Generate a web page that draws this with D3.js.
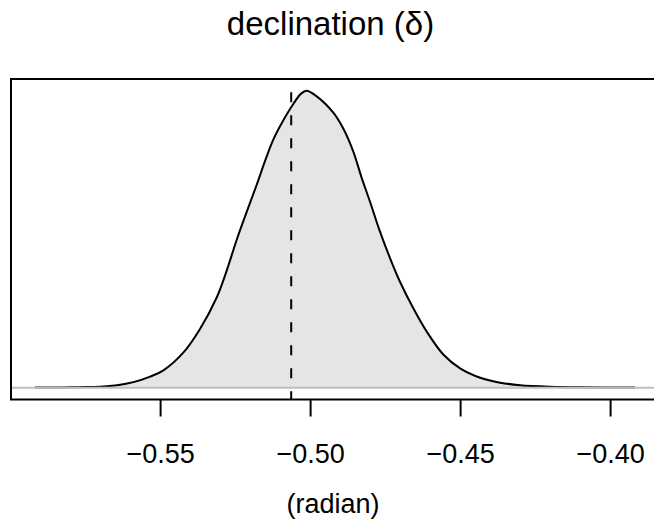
<!DOCTYPE html>
<html>
<head>
<meta charset="utf-8">
<script src="https://cdn.jsdelivr.net/npm/d3@7"></script>
<style>
  html, body { margin: 0; padding: 0; background: #fff; }
  svg { display: block; font-family: "Liberation Sans", Arial, Helvetica, sans-serif; }
</style>
</head>
<body>
<svg id="chart" width="654" height="524"></svg>
<script>
// ---- data ----
const densX = [-0.5917, -0.5833, -0.5767, -0.5700, -0.5643, -0.5589, -0.5533, -0.5489, -0.5422, -0.5367,
               -0.5311, -0.5280, -0.5244, -0.5211, -0.5178, -0.5148, -0.5122, -0.5091, -0.5056, -0.5030,
               -0.5012, -0.4978, -0.4922, -0.4889, -0.4856, -0.4828, -0.4800, -0.4767, -0.4733, -0.4700,
               -0.4656, -0.4611, -0.4556, -0.4500, -0.4433, -0.4367, -0.4300, -0.4200, -0.4100, -0.3917];
const densY = [0.005, 0.015, 0.035, 0.07, 0.18, 0.40, 0.80, 1.25, 2.55, 4.25,
               6.55, 8.35, 10.75, 12.75, 14.70, 16.55, 18.00, 19.30, 20.55, 21.30,
               21.50, 21.10, 19.90, 18.75, 17.10, 15.20, 13.45, 11.30, 9.35, 7.65,
               5.75, 4.05, 2.40, 1.40, 0.72, 0.36, 0.18, 0.07, 0.025, 0.005];
const markerX = [-0.5063];
const tickValues = [-0.55, -0.50, -0.45, -0.40];
const tickLabels = ["\u22120.55", "\u22120.50", "\u22120.45", "\u22120.40"];
const titleText = "declination (\u03B4)";
const xLabelText = "(radian)";

// ---- layout ----
const svg = d3.select("#chart");
const box = { left: 11, right: 659, top: 79, bottom: 399.5 };

const xmin = d3.min(densX), xmax = d3.max(densX);
const xpad = (xmax - xmin) * 0.04;
const x = d3.scaleLinear().domain([xmin - xpad, xmax + xpad]).range([box.left, box.right]);
const ymax = d3.max(densY);
const ypad = ymax * 0.04;
const y = d3.scaleLinear().domain([-ypad, ymax + ypad]).range([box.bottom, box.top]);

const pts = densX.map((d, i) => [d, densY[i]]);

svg.append("clipPath").attr("id", "plotclip")
  .append("rect").attr("x", box.left).attr("y", box.top)
  .attr("width", box.right - box.left).attr("height", box.bottom - box.top);

const g = svg.append("g").attr("clip-path", "url(#plotclip)");

const curve = d3.curveCatmullRom.alpha(0.5);

// filled density
const area = d3.area().x(d => x(d[0])).y0(y(0)).y1(d => y(d[1])).curve(curve);
g.append("path").datum(pts).attr("d", area).attr("fill", "#e5e5e5").attr("stroke", "none");

// density line
const line = d3.line().x(d => x(d[0])).y(d => y(d[1])).curve(curve);
g.append("path").datum(pts).attr("d", line).attr("fill", "none")
  .attr("stroke", "#000").attr("stroke-width", 2).attr("stroke-linejoin", "round");

// grey baseline
g.append("line").attr("x1", box.left).attr("x2", box.right)
  .attr("y1", y(0)).attr("y2", y(0))
  .attr("stroke", "#bebebe").attr("stroke-width", 2);

// dashed marker
g.selectAll("line.marker").data(markerX).enter().append("line")
  .attr("class", "marker")
  .attr("x1", d => x(d)).attr("x2", d => x(d))
  .attr("y1", y(ymax) + 1.5).attr("y2", box.bottom)
  .attr("stroke", "#000").attr("stroke-width", 2)
  .attr("stroke-dasharray", "10,13");

// box
svg.append("rect").attr("x", box.left).attr("y", box.top)
  .attr("width", box.right - box.left).attr("height", box.bottom - box.top)
  .attr("fill", "none").attr("stroke", "#000").attr("stroke-width", 2);

// x axis
const axis = d3.axisBottom(x).tickValues(tickValues)
  .tickFormat((d, i) => tickLabels[i]).tickSizeInner(17).tickSizeOuter(0).tickPadding(0);
const ax = svg.append("g").attr("transform", `translate(0,${box.bottom})`).call(axis);
ax.select(".domain").remove();
ax.selectAll(".tick line").attr("stroke", "#000").attr("stroke-width", 2);
ax.selectAll(".tick text").attr("fill", "#000")
  .attr("font-size", 27).attr("y", 0).attr("dy", 0)
  .attr("transform", `translate(0,${463 - box.bottom})`)
  .style("font-family", "'Liberation Sans', Arial, sans-serif");

// title
svg.append("text").attr("x", 330.5).attr("y", 35).attr("text-anchor", "middle")
  .attr("font-size", 33).attr("fill", "#000").text(titleText);

// x label
svg.append("text").attr("x", 333).attr("y", 513).attr("text-anchor", "middle")
  .attr("font-size", 27).attr("fill", "#000").text(xLabelText);
</script>
</body>
</html>
